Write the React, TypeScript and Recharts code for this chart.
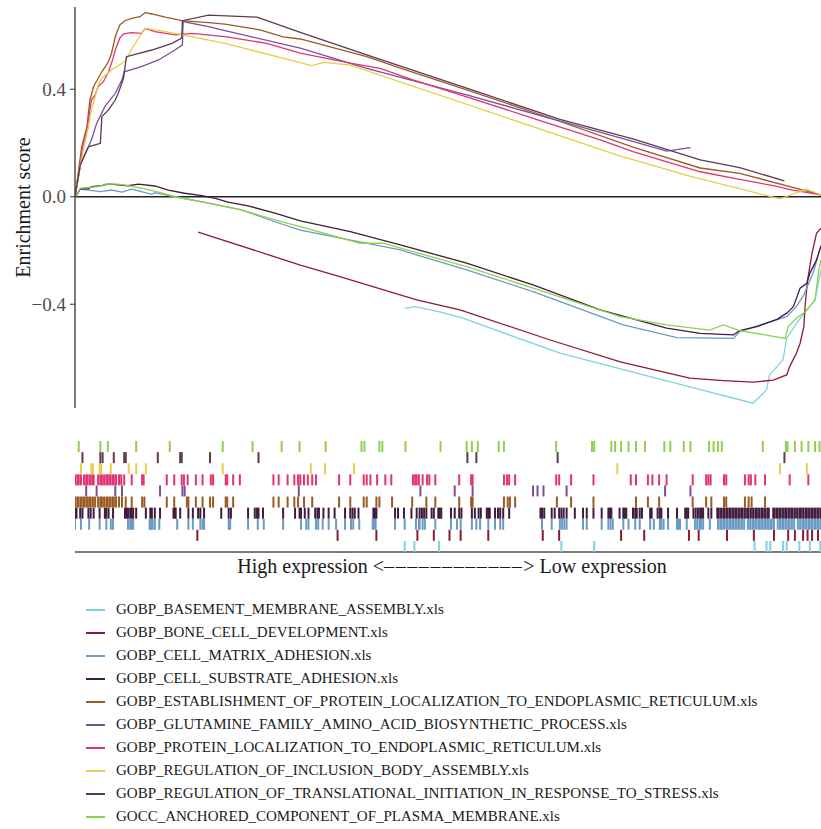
import { Line, LineChart, ReferenceLine, Scatter, ScatterChart, XAxis, YAxis } from "recharts";

// gene sets, in legend order (bottom rug row first)
const setNames = [
  "GOBP_BASEMENT_MEMBRANE_ASSEMBLY.xls",
  "GOBP_BONE_CELL_DEVELOPMENT.xls",
  "GOBP_CELL_MATRIX_ADHESION.xls",
  "GOBP_CELL_SUBSTRATE_ADHESION.xls",
  "GOBP_ESTABLISHMENT_OF_PROTEIN_LOCALIZATION_TO_ENDOPLASMIC_RETICULUM.xls",
  "GOBP_GLUTAMINE_FAMILY_AMINO_ACID_BIOSYNTHETIC_PROCESS.xls",
  "GOBP_PROTEIN_LOCALIZATION_TO_ENDOPLASMIC_RETICULUM.xls",
  "GOBP_REGULATION_OF_INCLUSION_BODY_ASSEMBLY.xls",
  "GOBP_REGULATION_OF_TRANSLATIONAL_INITIATION_IN_RESPONSE_TO_STRESS.xls",
  "GOCC_ANCHORED_COMPONENT_OF_PLASMA_MEMBRANE.xls",
];

const setColors = [
  "#7fd3de",
  "#8c1c34",
  "#6a9bc4",
  "#421c3c",
  "#9a5b22",
  "#7a4f9c",
  "#e2346f",
  "#e3cf48",
  "#5e3a51",
  "#8fd14f",
];

// running enrichment score: [rank, score]
const basementCurve = [[442, -0.415], [456, -0.409], [489, -0.428], [520, -0.452], [650, -0.582], [824, -0.707], [909, -0.768], [927, -0.719], [931, -0.663], [949, -0.607], [954, -0.527], [967, -0.471], [979, -0.428], [992, -0.384], [1000, -0.272]];
const boneCurve = [[165, -0.132], [302, -0.254], [355, -0.297], [458, -0.384], [516, -0.421], [637, -0.533], [731, -0.614], [824, -0.675], [869, -0.684], [909, -0.69], [936, -0.682], [954, -0.663], [958, -0.632], [967, -0.582], [972, -0.545], [977, -0.483], [979, -0.396], [982, -0.31], [988, -0.21], [994, -0.136], [1000, -0.117]];
const matrixCurve = [[0, 0], [3, 0.01], [7, 0.028], [34, 0.019], [49, 0.025], [63, 0.017], [76, 0.028], [89, 0.019], [103, 0.009], [107, 0.015], [134, 0.0], [179, -0.024], [223, -0.049], [268, -0.093], [302, -0.124], [436, -0.198], [525, -0.272], [614, -0.353], [735, -0.477], [807, -0.524], [883, -0.527], [891, -0.502], [914, -0.481], [954, -0.446], [967, -0.409], [977, -0.365], [990, -0.279], [1000, -0.181]];
const substrateCurve = [[0, 0], [3, 0.01], [7, 0.029], [18, 0.029], [22, 0.038], [36, 0.041], [45, 0.048], [58, 0.044], [71, 0.041], [85, 0.047], [107, 0.04], [125, 0.025], [147, 0.013], [170, 0.004], [188, -0.006], [205, -0.02], [232, -0.034], [268, -0.061], [302, -0.09], [369, -0.13], [436, -0.179], [525, -0.247], [614, -0.328], [704, -0.421], [793, -0.489], [838, -0.508], [883, -0.514], [891, -0.498], [914, -0.483], [941, -0.456], [954, -0.433], [963, -0.409], [972, -0.34], [981, -0.322], [985, -0.285], [994, -0.235], [1000, -0.183]];
const establishmentCurve = [[0, 0], [9, 0.186], [16, 0.261], [20, 0.36], [25, 0.41], [31, 0.441], [36, 0.465], [45, 0.503], [49, 0.534], [54, 0.596], [60, 0.639], [67, 0.655], [76, 0.664], [87, 0.67], [94, 0.685], [103, 0.68], [121, 0.668], [143, 0.655], [179, 0.648], [201, 0.642], [248, 0.621], [279, 0.595], [302, 0.587], [391, 0.521], [436, 0.479], [525, 0.398], [637, 0.293], [748, 0.185], [838, 0.107], [891, 0.087], [1000, 0.007]];
const glutamineCurve = [[0, 0], [7, 0.118], [22, 0.211], [29, 0.273], [40, 0.335], [54, 0.385], [63, 0.435], [66, 0.465], [89, 0.484], [112, 0.509], [134, 0.546], [144, 0.565], [145, 0.652], [179, 0.633], [201, 0.618], [302, 0.553], [391, 0.478], [525, 0.379], [637, 0.292], [749, 0.205], [793, 0.17], [825, 0.183]];
const proteinCurve = [[0, 0], [7, 0.112], [10, 0.186], [16, 0.249], [20, 0.323], [22, 0.36], [27, 0.379], [31, 0.41], [38, 0.428], [45, 0.465], [51, 0.515], [54, 0.546], [60, 0.59], [65, 0.606], [76, 0.611], [89, 0.608], [94, 0.626], [107, 0.614], [134, 0.602], [157, 0.608], [201, 0.596], [257, 0.571], [302, 0.534], [369, 0.497], [409, 0.478], [453, 0.435], [525, 0.372], [614, 0.292], [704, 0.212], [748, 0.168], [838, 0.093], [891, 0.065], [936, 0.041], [962, 0.025], [1000, 0.007]];
const inclusionCurve = [[0, 0], [7, 0.118], [18, 0.261], [22, 0.323], [27, 0.372], [31, 0.416], [36, 0.441], [49, 0.472], [67, 0.503], [78, 0.559], [94, 0.627], [134, 0.608], [201, 0.571], [302, 0.499], [317, 0.488], [335, 0.5], [369, 0.49], [726, 0.156], [824, 0.077], [945, -0.008], [981, 0.028], [1000, 0.007]];
const translationCurve = [[0, 0], [7, 0.118], [18, 0.186], [34, 0.199], [36, 0.298], [45, 0.323], [54, 0.36], [58, 0.385], [65, 0.441], [69, 0.521], [103, 0.546], [130, 0.571], [143, 0.59], [144, 0.655], [179, 0.676], [244, 0.668], [302, 0.612], [391, 0.528], [525, 0.404], [650, 0.288], [749, 0.214], [838, 0.137], [891, 0.108], [951, 0.059]];
const anchoredCurve = [[0, 0], [3, 0.01], [7, 0.032], [31, 0.038], [42, 0.048], [58, 0.047], [71, 0.041], [89, 0.032], [112, 0.017], [134, 0.0], [179, -0.024], [223, -0.049], [268, -0.086], [302, -0.111], [382, -0.173], [413, -0.173], [525, -0.26], [614, -0.34], [731, -0.446], [793, -0.477], [851, -0.496], [869, -0.477], [891, -0.498], [952, -0.527], [956, -0.483], [967, -0.452], [979, -0.428], [992, -0.384], [997, -0.272], [1000, -0.235]];

// rank positions of the member genes (rug rows)
const basementHits = [442, 455, 488, 652, 696, 911, 927, 932, 949, 954, 971, 985, 999];
const boneHits = [164, 352, 404, 459, 481, 502, 517, 554, 627, 649, 732, 763, 823, 836, 874, 910, 937, 956, 965, 976, 982, 988, 996];
const matrixHits = [0, 8, 19, 33, 42, 48, 51, 71, 74, 76, 78, 100, 102, 104, 107, 113, 137, 152, 158, 168, 171, 173, 206, 208, 232, 245, 253, 279, 303, 310, 313, 323, 326, 332, 340, 350, 362, 370, 373, 381, 399, 401, 403, 429, 442, 457, 461, 462, 466, 469, 483, 504, 512, 517, 532, 538, 543, 554, 563, 570, 574, 626, 639, 650, 653, 656, 659, 681, 686, 706, 715, 718, 721, 735, 742, 751, 757, 771, 776, 784, 786, 789, 795, 807, 809, 811, 820, 831, 834, 837, 839, 842, 851, 862, 865, 867, 870, 873, 875, 878, 881, 883, 886, 889, 891, 894, 897, 902, 905, 908, 910, 913, 916, 918, 921, 924, 926, 929, 932, 934, 937, 942, 945, 948, 950, 953, 956, 958, 961, 964, 969, 972, 975, 977, 980, 983, 985, 988, 991, 993, 996, 999];
const substrateHits = [0, 2, 7, 10, 18, 21, 25, 33, 40, 42, 45, 51, 67, 69, 71, 74, 76, 78, 82, 95, 101, 103, 107, 114, 132, 134, 135, 141, 152, 158, 165, 168, 173, 196, 206, 209, 232, 241, 244, 246, 252, 279, 295, 301, 303, 308, 313, 322, 325, 327, 333, 340, 348, 362, 369, 372, 375, 380, 400, 402, 404, 429, 433, 441, 451, 458, 462, 465, 468, 471, 478, 481, 487, 489, 491, 504, 509, 515, 518, 532, 536, 541, 544, 552, 554, 556, 563, 567, 570, 574, 582, 624, 626, 629, 639, 643, 649, 652, 655, 659, 670, 681, 686, 695, 706, 715, 717, 719, 730, 735, 737, 739, 748, 751, 753, 757, 760, 771, 773, 781, 784, 786, 795, 807, 818, 820, 822, 829, 832, 835, 838, 840, 842, 849, 853, 861, 863, 866, 869, 871, 874, 877, 879, 882, 885, 887, 890, 893, 895, 898, 901, 903, 906, 909, 912, 914, 917, 920, 922, 925, 928, 930, 936, 938, 941, 944, 946, 949, 952, 954, 957, 960, 962, 965, 968, 971, 973, 976, 979, 981, 984, 987, 989, 992, 995, 997, 1000];
const establishmentHits = [0, 3, 5, 8, 11, 13, 16, 19, 21, 24, 27, 31, 34, 36, 39, 42, 44, 47, 50, 52, 55, 59, 63, 68, 76, 90, 93, 123, 133, 150, 152, 162, 171, 181, 185, 202, 204, 212, 266, 273, 285, 294, 299, 307, 318, 354, 369, 387, 391, 404, 408, 425, 452, 471, 483, 515, 531, 533, 575, 580, 583, 590, 646, 665, 695, 752, 768, 783, 828, 846, 853, 870, 873, 898, 903, 907, 925];
const glutamineHits = [15, 29, 54, 63, 114, 144, 147, 300, 463, 509, 533, 614, 620, 628, 659, 791, 825];
const proteinHits = [0, 3, 5, 8, 12, 15, 17, 20, 23, 25, 31, 34, 36, 39, 42, 44, 47, 50, 52, 55, 59, 62, 66, 76, 90, 92, 123, 133, 143, 146, 151, 162, 171, 182, 185, 202, 204, 212, 221, 266, 273, 285, 294, 299, 302, 307, 312, 318, 323, 354, 369, 387, 391, 396, 405, 416, 424, 453, 456, 458, 461, 466, 472, 475, 483, 515, 531, 533, 575, 579, 582, 590, 645, 649, 665, 695, 745, 752, 768, 774, 783, 793, 828, 846, 849, 852, 870, 873, 898, 903, 906, 912, 925, 958, 983];
const inclusionHits = [8, 22, 24, 33, 35, 48, 72, 82, 95, 198, 316, 335, 374, 727, 945, 981];
const translationHits = [10, 34, 37, 52, 66, 68, 111, 141, 143, 181, 246, 526, 538, 647, 951];
const anchoredHits = [5, 34, 44, 82, 127, 198, 238, 277, 301, 336, 384, 388, 408, 412, 443, 490, 525, 532, 540, 568, 575, 645, 693, 696, 719, 724, 732, 742, 752, 764, 790, 798, 816, 825, 850, 856, 862, 867, 922, 953, 955, 965, 974, 983, 992, 998];

const curves = [basementCurve, boneCurve, matrixCurve, substrateCurve, establishmentCurve, glutamineCurve, proteinCurve, inclusionCurve, translationCurve, anchoredCurve];
const hits = [basementHits, boneHits, matrixHits, substrateHits, establishmentHits, glutamineHits, proteinHits, inclusionHits, translationHits, anchoredHits];

const yTicks = [-0.4, 0, 0.4];
const xLabelLeft = "High expression <";
const xLabelDashes = "––––––––––––";
const xLabelRight = "> Low expression";

const fmt = (v: number) => (v < 0 ? "\u2212" : "") + Math.abs(v).toFixed(1);

const XLabel = (props: any) => {
  const vb = props.viewBox || { x: 75, y: 552, width: 746 };
  return (
    <text
      x={vb.x + vb.width / 2 + 4}
      y={vb.y + 21}
      textAnchor="middle"
      fontSize={20}
      fill="#1a1a1a"
    >
      <tspan>{xLabelLeft}</tspan>
      <tspan letterSpacing={1.6}>{xLabelDashes}</tspan>
      <tspan>{xLabelRight}</tspan>
    </text>
  );
};

const App = () => {
  return (
    <div
      style={{
        position: "absolute",
        left: 0,
        top: 0,
        width: 821,
        height: 829,
        background: "#fff",
        fontFamily: '"Liberation Serif", "Times New Roman", serif',
      }}
    >
      <LineChart width={821} height={415} margin={{ top: 7, right: 0, bottom: 7, left: 0 }}>
        <XAxis type="number" dataKey="rank" domain={[0, 1000]} hide allowDataOverflow />
        <YAxis
          type="number"
          width={75}
          domain={[-0.786, 0.706]}
          allowDataOverflow
          ticks={yTicks}
          tickFormatter={fmt}
          tick={{ fontSize: 19, fill: "#4d4d4d" }}
          tickSize={5}
          tickMargin={4}
          axisLine={{ stroke: "#333", strokeWidth: 1.3 }}
          tickLine={{ stroke: "#333" }}
          label={{
            value: "Enrichment score",
            angle: -90,
            position: "insideLeft",
            offset: 23,
            style: { textAnchor: "middle", fontSize: 20, fill: "#1a1a1a" },
          }}
        />
        <ReferenceLine y={0} stroke="#222" strokeWidth={1.4} />
        {curves.map((c, i) => (
          <Line
            key={setNames[i]}
            data={c.map(([rank, es]) => ({ rank, es }))}
            dataKey="es"
            type="linear"
            stroke={setColors[i]}
            strokeWidth={1.3}
            dot={false}
            isAnimationActive={false}
          />
        ))}
      </LineChart>

      <div style={{ position: "absolute", left: 0, top: 415 }}>
        <ScatterChart width={821} height={175} margin={{ top: 26, right: 0, bottom: 0, left: 75 }}>
          <XAxis
            type="number"
            dataKey="rank"
            domain={[0, 1000]}
            allowDataOverflow
            height={38}
            tick={false}
            tickLine={false}
            axisLine={{ stroke: "#4d4d4d", strokeWidth: 1.7 }}
            label={(p: any) => <XLabel {...p} />}
          />
          <YAxis type="number" dataKey="row" domain={[0.5, 10.5]} hide />
          {hits.map((h, i) => (
            <Scatter
              key={setNames[i]}
              data={h.map((rank) => ({ rank, row: i + 1 }))}
              fill={setColors[i]}
              isAnimationActive={false}
              shape={(p: any) => (
                <rect x={p.cx - 1} y={p.cy - 5.5} width={2} height={11} fill={setColors[i]} />
              )}
            />
          ))}
        </ScatterChart>
      </div>

      <div style={{ position: "absolute", left: 0, top: 598, width: 821 }}>
        {setNames.map((name, i) => (
          <div key={name} style={{ position: "relative", height: 23, lineHeight: "23px", fontSize: 15, color: "#1a1a1a" }}>
            <div
              style={{
                position: "absolute",
                left: 86,
                top: 11,
                width: 19,
                height: 1.6,
                background: setColors[i],
              }}
            />
            <span style={{ position: "absolute", left: 116, top: 0, whiteSpace: "nowrap" }}>{name}</span>
          </div>
        ))}
      </div>
    </div>
  );
};

export default App;
